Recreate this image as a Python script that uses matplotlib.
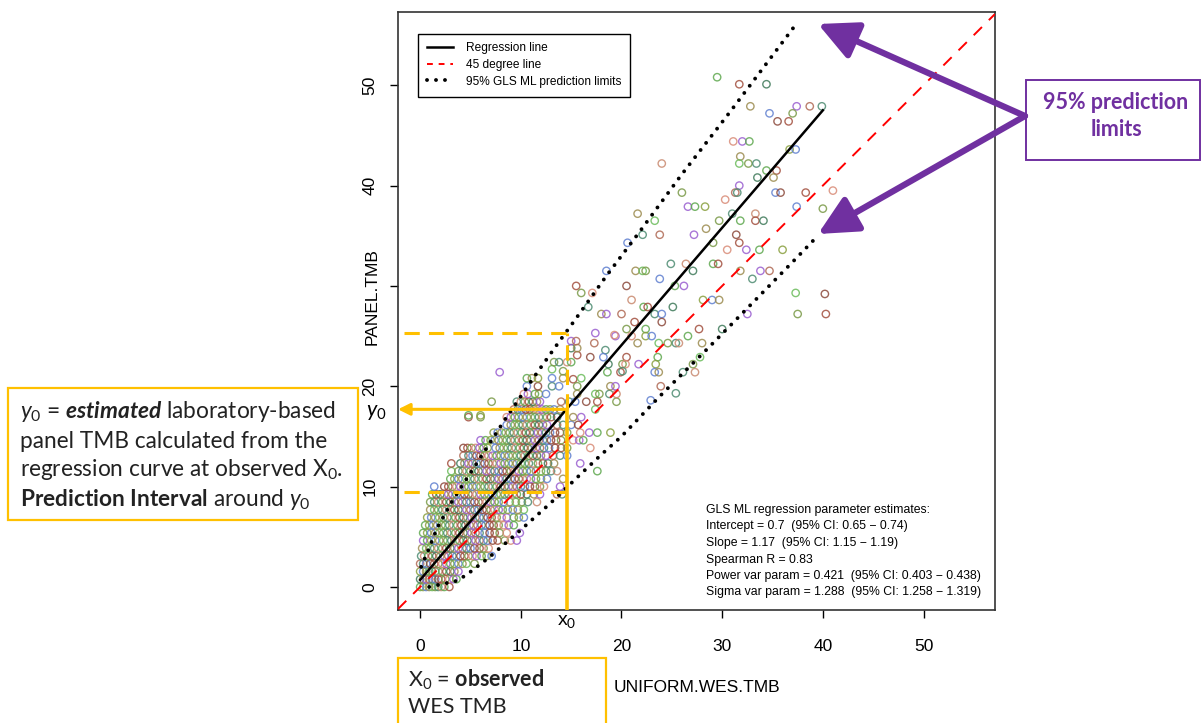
import matplotlib
matplotlib.use("Agg")
import matplotlib.pyplot as plt
from matplotlib.lines import Line2D
from matplotlib.patches import Rectangle, FancyArrowPatch

plt.rcParams['font.family'] = ['Liberation Sans', 'DejaVu Sans']
plt.rcParams['mathtext.fontset'] = 'custom'
plt.rcParams['mathtext.rm'] = 'Lato'
plt.rcParams['mathtext.it'] = 'Lato:italic'
plt.rcParams['mathtext.bf'] = 'Lato:bold'
plt.rcParams['mathtext.bfit'] = 'Lato:bold:italic'

# dense part: panel TMB comes in steps, one list of WES TMB values per step
row_y = [0.0, 0.77, 1.54, 2.31, 3.08, 3.85, 4.62, 5.38, 6.15, 6.92, 7.69, 8.46,
         9.23, 10.0, 10.77, 11.54, 12.31, 13.08, 13.85, 14.62, 15.38, 16.15,
         16.92, 17.69, 18.46, 19.23]
row_x = [
    [0.0, 0.3, 0.6, 0.9, 1.2, 1.5, 1.8, 2.1, 2.4, 2.9],
    [0.0, 0.3, 0.6, 0.9, 1.2, 1.5, 1.8, 2.1, 2.5, 2.9, 3.3, 3.6],
    [0.0, 0.3, 0.6, 0.9, 1.2, 1.5, 1.8, 2.2, 2.6, 3.0, 3.4, 3.8],
    [0.0, 0.3, 0.6, 1.0, 1.4, 1.8, 2.2, 2.6, 3.0, 3.4, 3.8, 4.2, 4.6, 5.4],
    [0.1, 0.4, 0.8, 1.2, 1.6, 2.0, 2.4, 2.8, 3.2, 3.6, 4.0, 4.4, 4.8, 5.2, 5.6, 6.1, 6.6, 7.1],
    [0.2, 0.6, 1.0, 1.4, 1.8, 2.2, 2.6, 3.0, 3.4, 3.8, 4.2, 4.6, 5.0, 5.4, 5.9, 6.3, 6.8],
    [0.3, 0.7, 1.1, 1.5, 1.9, 2.3, 2.7, 3.1, 3.5, 3.9, 4.3, 4.7, 5.1, 5.5, 5.9, 6.3, 6.7, 7.2,
     7.7, 8.4, 9.0, 9.6],
    [0.3, 0.7, 1.1, 1.5, 1.9, 2.3, 2.7, 3.1, 3.5, 3.9, 4.3, 4.7, 5.1, 5.5, 5.9, 6.4, 6.9, 7.4,
     7.9, 8.6, 9.9],
    [0.5, 0.9, 1.3, 1.7, 2.1, 2.5, 2.9, 3.3, 3.7, 4.1, 4.5, 4.9, 5.3, 5.7, 6.1, 6.5, 6.9, 7.3,
     7.8, 8.3, 8.8, 9.3],
    [0.7, 1.1, 1.5, 1.9, 2.3, 2.7, 3.1, 3.5, 3.9, 4.3, 4.7, 5.1, 5.5, 5.9, 6.3, 6.7, 7.1, 7.6,
     8.1, 8.6, 9.3, 9.8, 10.3],
    [1.0, 1.4, 1.8, 2.2, 2.6, 3.0, 3.4, 3.8, 4.2, 4.6, 5.0, 5.4, 5.8, 6.2, 6.6, 7.0, 7.4, 7.8,
     8.2, 8.7, 9.2, 9.7, 10.3],
    [1.0, 1.4, 1.8, 2.2, 2.6, 3.0, 3.4, 3.8, 4.2, 4.6, 5.0, 5.4, 5.8, 6.2, 6.6, 7.0, 7.4, 7.8,
     8.3, 8.9, 9.5, 10.1, 10.7, 11.6],
    [1.2, 1.6, 2.0, 2.4, 2.8, 3.2, 3.6, 4.0, 4.4, 4.8, 5.2, 5.6, 6.0, 6.4, 6.8, 7.2, 7.6, 8.0,
     8.4, 8.8, 9.2, 9.6, 10.0, 10.6, 11.3, 11.9, 13.6, 14.1],
    [1.4, 2.4, 2.8, 3.2, 3.6, 4.0, 4.4, 4.8, 5.2, 5.6, 6.0, 6.4, 6.8, 7.2, 7.6, 8.0, 8.4, 8.8,
     9.2, 9.6, 10.0, 10.4, 10.9, 11.4, 11.9, 12.3, 13.9],
    [3.0, 3.4, 3.8, 4.2, 4.6, 5.0, 5.4, 5.8, 6.2, 6.6, 7.0, 7.4, 7.8, 8.2, 8.6, 9.0, 9.4, 9.8,
     10.2, 10.6, 11.0, 11.5, 12.0, 12.6, 14.2],
    [3.1, 3.8, 4.2, 4.6, 5.0, 5.4, 5.8, 6.2, 6.6, 7.0, 7.4, 7.8, 8.2, 8.6, 9.0, 9.4, 9.8, 10.2,
     10.6, 11.0, 11.5, 12.0, 12.5, 13.0, 13.6, 17.6],
    [3.1, 4.0, 4.4, 4.8, 5.2, 5.6, 6.0, 6.4, 6.8, 7.2, 7.6, 8.0, 8.4, 8.8, 9.2, 9.6, 10.0, 10.4,
     10.8, 11.2, 11.7, 12.2, 12.7, 13.3, 15.9],
    [4.3, 4.8, 5.2, 5.6, 6.0, 6.4, 6.8, 7.2, 7.6, 8.0, 8.4, 8.8, 9.2, 9.6, 10.0, 10.4, 10.8,
     11.2, 11.6, 12.0, 12.5, 13.2, 13.9, 14.6],
    [4.3, 4.7, 5.1, 5.5, 5.9, 6.3, 6.7, 7.5, 7.9, 8.3, 8.7, 9.1, 9.5, 9.9, 10.3, 10.7, 11.1,
     11.5, 11.9, 12.3, 12.8, 13.4, 14.0, 14.6, 16.9],
    [6.0, 6.5, 7.0, 7.4, 7.8, 8.2, 8.6, 9.0, 9.4, 9.8, 10.2, 10.6, 11.0, 11.4, 11.8, 12.2, 12.6,
     13.0, 13.5, 14.0, 15.2, 15.8, 16.2],
    [7.3, 7.7, 8.1, 8.5, 8.9, 9.3, 9.7, 10.1, 10.5, 10.9, 11.3, 11.7, 12.1, 12.5, 12.9, 13.4,
     13.9, 14.6, 15.9, 16.8, 17.6, 18.9],
    [8.6, 9.0, 9.4, 9.8, 10.2, 10.6, 11.0, 11.4, 11.8, 12.2, 12.6, 13.6, 14.2, 15.0, 15.7],
    [4.8, 6.0, 8.6, 9.0, 9.4, 9.8, 10.2, 10.6, 11.0, 11.4, 11.8, 12.2, 12.6, 13.0, 13.6, 15.2, 16.0],
    [9.3, 9.7, 10.1, 10.5, 10.9, 11.3, 11.7, 12.1, 12.5, 12.9, 13.3, 13.9, 17.4],
    [7.1, 9.6, 10.0, 10.4, 10.8, 11.2, 11.6, 11.9, 14.0, 14.8, 15.4, 16.5, 17.6, 19.5],
    [10.3, 10.7, 11.4, 11.8, 12.5, 15.6, 17.4, 17.8, 18.8, 19.5],
]

# sparse upper part
sparse_x = [29.5, 31.7, 34.4, 32.8, 37.4, 38.7, 39.9, 34.7, 35.5, 36.6, 37.0, 31.1, 32.0, 32.7,
            36.7, 37.3, 31.8, 31.7, 32.6, 33.4, 24.0, 34.4, 35.4, 33.5, 35.1, 31.7, 31.3, 31.5,
            35.3, 35.8, 38.3, 26.0, 30.3, 26.6, 27.3, 28.3, 37.4, 21.6, 23.3, 29.7, 31.0, 33.3,
            31.8, 33.3, 34.1, 28.4, 27.2, 23.8, 22.1, 20.6, 31.4, 31.7, 29.1, 30.5, 32.4, 33.7,
            36.0, 18.5, 21.4, 22.1, 22.4, 24.9, 26.4, 29.1, 29.6, 27.1, 31.8, 33.8, 34.7, 33.0,
            23.8, 20.5, 15.5, 16.0, 17.1, 26.2, 25.3, 28.1, 29.0, 29.7, 37.3, 37.5, 16.7, 21.0,
            22.2, 22.6, 25.1, 18.0, 18.5, 20.0, 23.3, 24.0, 24.0, 21.3, 20.5, 21.0, 19.4, 22.4,
            22.4, 23.0, 21.6, 23.7, 24.6, 25.4, 25.7, 26.6, 27.7, 30.0, 28.0, 32.5, 17.3, 18.4,
            18.2, 16.9, 20.5, 20.1, 20.4, 21.7, 23.6, 23.4, 23.3, 23.7, 27.8, 27.1, 26.1, 27.3,
            18.6, 19.9, 18.7, 18.9, 19.4, 23.9, 25.4, 22.9, 40.2, 40.3, 40.0, 41.0, 7.9, 4.8,
            6.0, 10.6, 11.1, 13.1, 13.3, 13.8, 14.6, 15.0, 15.6, 15.0, 15.6, 15.0, 15.5, 13.1,
            13.8, 11.7, 15.2, 15.6, 19.3, 17.4, 10.6, 11.7, 13.1, 14.2, 16.0, 14.2, 20.1]
sparse_y = [50.8, 50.1, 50.1, 47.9, 47.9, 47.9, 47.9, 47.2, 46.4, 46.4, 47.2, 44.4, 44.4, 44.4,
            43.6, 43.6, 42.9, 42.2, 42.2, 42.2, 42.2, 41.5, 41.5, 40.8, 40.8, 40.0, 39.3, 39.3,
            39.3, 39.3, 39.3, 39.3, 38.6, 37.9, 37.9, 37.9, 37.9, 37.2, 36.5, 36.5, 37.2, 37.2,
            36.5, 36.5, 36.5, 35.7, 35.1, 35.1, 35.1, 34.3, 35.1, 34.3, 34.3, 33.6, 33.6, 33.6,
            33.6, 31.5, 31.5, 31.5, 31.5, 32.2, 32.2, 32.2, 32.2, 31.5, 31.5, 31.5, 31.5, 30.7,
            30.7, 30.0, 30.0, 29.3, 29.3, 30.0, 30.0, 28.6, 28.6, 28.6, 29.3, 27.2, 27.9, 28.6,
            27.9, 27.9, 27.9, 27.2, 27.2, 27.2, 27.2, 27.2, 26.4, 26.4, 25.7, 25.0, 25.0, 25.7,
            25.0, 25.0, 24.3, 24.3, 24.3, 24.3, 24.3, 25.0, 25.7, 25.7, 24.3, 27.2, 24.3, 23.6,
            22.9, 22.9, 22.9, 22.2, 22.2, 22.2, 22.9, 22.2, 21.4, 21.4, 22.9, 22.2, 21.4, 21.4,
            21.4, 21.4, 22.2, 20.0, 20.0, 20.0, 19.3, 18.6, 29.2, 27.2, 37.7, 39.5, 21.4, 17.1,
            17.1, 20.0, 20.8, 21.7, 22.4, 22.4, 22.4, 22.4, 23.1, 23.8, 23.8, 24.5, 24.5, 20.0,
            20.0, 20.0, 20.7, 20.0, 25.1, 25.3, 20.8, 20.8, 20.8, 20.8, 20.8, 21.5, 21.5]

# GLS ML fit
intercept = 0.7
slope = 1.17
reg_x = [0, 40]

# 95% prediction limits
upper_x = [0.1, 0.7, 1.7, 3.1, 4.5, 6.0, 8.5, 11.3, 13.7, 15.3, 18.5, 21.8, 25.9, 30.9, 34.2, 37.5]
upper_y = [2.0, 3.4, 5.9, 8.4, 10.6, 12.9, 16.8, 20.9, 24.3, 26.5, 31.0, 35.4, 41.0, 47.5, 51.9, 56.3]
lower_x = [0.9, 3.6, 4.6, 6.8, 9.9, 13.0, 15.9, 17.9, 20.0, 23.8, 28.6, 33.4, 37.3, 39.6]
lower_y = [0.0, 0.6, 1.2, 2.9, 5.6, 8.4, 11.2, 13.1, 15.0, 19.0, 23.8, 28.7, 32.7, 35.1]

# observed X0 and the interval around y0
x0 = 14.6
y0 = 17.7
pi_low = 9.5
pi_high = 25.3

ticks = [0, 10, 20, 30, 40, 50]
# the 30 on the y axis is hidden under the axis title in the original
ytick_labels = ["0", "10", "20", "", "40", "50"]

stats_lines = ["GLS ML regression parameter estimates:",
               "Intercept = 0.7  (95% CI: 0.65 \u2212 0.74)",
               "Slope = 1.17  (95% CI: 1.15 \u2212 1.19)",
               "Spearman R = 0.83",
               "Power var param = 0.421  (95% CI: 0.403 \u2212 0.438)",
               "Sigma var param = 1.288  (95% CI: 1.258 \u2212 1.319)"]

palette = ['#5fa84f', '#8c4a3c', '#9c8c50', '#d98c78', '#4e8c72', '#8aa040',
           '#a3503f', '#6cbc5c', '#9a5fd0', '#c98a70', '#6080d0', '#3f7a5a',
           '#7a9a48', '#b06a55']

W, H = 1202, 723
fig = plt.figure(figsize=(W / 100, H / 100), dpi=100)
ax = fig.add_axes([398 / W, 1 - 610 / H, 597 / W, 598 / H])

# points
xs, ys = [], []
for y, row in zip(row_y, row_x):
    for x in row:
        xs.append(x)
        ys.append(y)
xs += sparse_x
ys += sparse_y
cols = [palette[(i * 5 + i // 3) % len(palette)] for i in range(len(xs))]
ax.scatter(xs, ys, s=28, facecolors='none', edgecolors=cols, linewidths=1.0,
           alpha=0.85, zorder=2)

# lines
ax.axline((0, 0), slope=1, color='#ff0000', lw=1.4, linestyle=(0, (6, 5)), zorder=3)
ax.plot(reg_x, [intercept + slope * v for v in reg_x], color='black', lw=1.8, zorder=4)
dots = (0, (0.01, 2.3))
ax.plot(upper_x, upper_y, color='black', lw=2.8, linestyle=dots,
        dash_capstyle='round', zorder=4)
ax.plot(lower_x, lower_y, color='black', lw=2.8, linestyle=dots,
        dash_capstyle='round', zorder=4)

ax.set_xlim(-2.2, 57.1)
ax.set_ylim(-2.3, 57.3)
ax.set_xticks(ticks)
ax.set_yticks(ticks)
ax.set_yticklabels(ytick_labels)
ax.tick_params(axis='both', direction='out', length=6, width=1, colors='black',
               labelsize=12.5)
ax.tick_params(axis='x', pad=15)
ax.tick_params(axis='y', pad=9, labelrotation=90)
for lab in ax.get_yticklabels():
    lab.set_va('center')
for sp in ax.spines.values():
    sp.set_color('#333333')
    sp.set_linewidth(1.2)

# legend
handles = [Line2D([], [], color='black', lw=1.8),
           Line2D([], [], color='#ff0000', lw=1.4, linestyle=(0, (3, 3))),
           Line2D([], [], color='black', lw=2.8, linestyle=(0, (0.01, 2.3)),
                  dash_capstyle='round')]
leg = ax.legend(handles, ["Regression line", "45 degree line",
                          "95% GLS ML prediction limits"],
                loc='upper left', bbox_to_anchor=(0.033, 0.964), fontsize=8.6,
                frameon=True, fancybox=False, framealpha=1, edgecolor='black',
                handlelength=2.2, labelspacing=0.38, borderpad=0.75,
                handletextpad=1.1, borderaxespad=0)
leg.get_frame().set_linewidth(1.0)

# stats block
ax.text(706 / W, 1 - 504 / H, "\n".join(stats_lines), transform=fig.transFigure,
        fontsize=8.8, va='top', ha='left', linespacing=1.5)

# orange guides
orange = '#ffc000'
ax.plot([-1.6, x0], [pi_high, pi_high], color=orange, lw=2.2, linestyle=(0, (5, 3)), zorder=5)
ax.plot([-1.6, x0], [pi_low, pi_low], color=orange, lw=2.2, linestyle=(0, (5, 3)), zorder=5)
ax.plot([x0, x0], [y0, pi_high], color=orange, lw=2.2, linestyle=(0, (5, 3)), zorder=5)
ax.plot([x0, x0], [-2.3, y0], color=orange, lw=2.6, zorder=5, solid_capstyle='butt')
ax.annotate('', xy=(-2.2, y0), xytext=(x0, y0),
            arrowprops=dict(arrowstyle='-|>,head_length=0.7,head_width=0.35',
                            color=orange, lw=2.2, shrinkA=0, shrinkB=0), zorder=6)

# labels
fig.text(697 / W, 1 - 688 / H, "UNIFORM.WES.TMB", ha='center', va='center', fontsize=12.5)
fig.text(372 / W, 1 - 297 / H, "PANEL.TMB", ha='center', va='center', fontsize=12.5,
         rotation=90)
fig.text(567 / W, 1 - 622 / H, "x$_0$", ha='center', va='center', fontsize=14,
         family='Liberation Sans')
fig.text(376 / W, 1 - 412 / H, "$y_0$", ha='center', va='center', fontsize=15.5)

# left explanation box
fig.add_artist(Rectangle((8 / W, 1 - 520 / H), 350 / W, 132 / H, transform=fig.transFigure,
                         facecolor='white', edgecolor=orange, lw=1.6))
left_lines = [r"$y_0$ = $\mathbfit{estimated}$ laboratory-based",
              "panel TMB calculated from the",
              "regression curve at observed X$_0$.",
              r"$\mathbf{Prediction\ Interval}$ around $y_0$"]
for i, t in enumerate(left_lines):
    fig.text(20 / W, 1 - (412 + 29 * i) / H, t, ha='left', va='center', fontsize=16.3,
             family='Lato', color='#222222')

# bottom explanation box
fig.add_artist(Rectangle((398 / W, -0.02), 208 / W, (723 - 658) / H + 0.02,
                         transform=fig.transFigure, facecolor='white', edgecolor=orange, lw=1.6))
fig.text(408 / W, 1 - 680 / H, r"X$_0$ = $\mathbf{observed}$", ha='left', va='center',
         fontsize=15.5, family='Lato', color='#222222')
fig.text(408 / W, 1 - 707 / H, "WES TMB", ha='left', va='center', fontsize=15.5,
         family='Lato', color='#222222')

# right box and purple arrows
purple = '#7030a0'
fig.add_artist(Rectangle((1026 / W, 1 - 160 / H), 174 / W, 80 / H, transform=fig.transFigure,
                         facecolor='white', edgecolor=purple, lw=1.4))
fig.text(1116 / W, 1 - 116 / H, "95% prediction\nlimits", ha='center', va='center',
         fontsize=15.5, family='Lato', weight='bold', color=purple, linespacing=1.4)
for tip in [(818, 24), (818, 234)]:
    fig.add_artist(FancyArrowPatch((1025 / W, 1 - 116 / H), (tip[0] / W, 1 - tip[1] / H),
                                   transform=fig.transFigure,
                                   arrowstyle='-|>,head_length=0.85,head_width=0.42',
                                   mutation_scale=28, lw=4.5, color=purple,
                                   shrinkA=0, shrinkB=0))

fig.savefig("out.png", dpi=100)
